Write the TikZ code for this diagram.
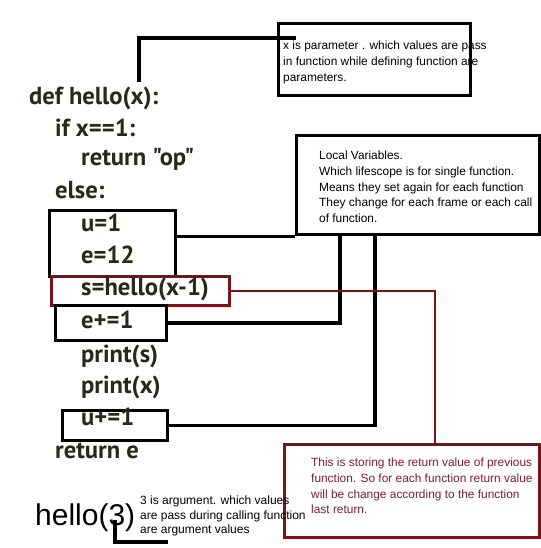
\documentclass[tikz,border=0pt]{standalone}
\usepackage{fontspec}
\setmainfont{Liberation Sans}
\newfontfamily\codefont{PT Sans}
\begin{document}
\begin{tikzpicture}[x=1pt,y=-1pt,
  code/.style={anchor=base west,inner sep=0pt,text=codecol,font=\codefont\bfseries\fontsize{24.6}{28}\selectfont},
  note/.style={anchor=north west,inner sep=0pt,align=left,font=\fontsize{11.9}{15.6}\selectfont},
  blkbox/.style={draw=black,line width=3.1pt,anchor=north west,inner sep=0pt},
  redbox/.style={draw=redcol,line width=2.8pt,anchor=north west,inner sep=0pt},
  conn/.style={draw=black,line width=3.2pt},
  redconn/.style={draw=redcol,line width=2.6pt}]
\definecolor{codecol}{RGB}{40,40,28}
\definecolor{redcol}{RGB}{123,18,22}
\definecolor{redtext}{RGB}{122,30,58}
\useasboundingbox[fill=white] (0,0) rectangle (540,548);
% boxes
\node[blkbox,minimum width=192pt,minimum height=72pt] (pbox) at (277,22) {};
\node[blkbox,minimum width=243pt,minimum height=99pt] (lv) at (295,134) {};
\node[blkbox,minimum width=126pt,minimum height=66pt] (bu) at (48,209) {};
\node[redbox,minimum width=178pt,minimum height=29pt] (bs) at (50,275) {};
\node[blkbox,minimum width=111pt,minimum height=35pt] (be) at (54,304) {};
\node[blkbox,minimum width=105pt,minimum height=30pt] (bu2) at (61,409) {};
\node[redbox,minimum width=255pt,minimum height=93pt] (rb) at (283,443) {};
% code
\node[code] (l1) at (29,105) {def hello(x):};
\node[code] (l2) at (55,137) {if x==1:};
\node[code] (l3) at (81,165) {return "op"};
\node[code] (l4) at (55,198) {else:};
\node[code] (l5) at (81,231) {u=1};
\node[code] (l6) at (81,263) {e=12};
\node[code] (l7) at (81,295) {s=hello(x-1)};
\node[code] (l8) at (81,328) {e+=1};
\node[code] (l9) at (81,362) {print(s)};
\node[code] (l10) at (81,393) {print(x)};
\node[code] (l11) at (81,425) {u+=1};
\node[code] (l12) at (55,458) {return e};
% notes
\node[note] (pt) at (283,41) {x is parameter . which values are pass\\in function while defining function are\\parameters.};
\node[note] (lt) at (319,151) {Local Variables.\\Which lifescope is for single function.\\Means they set again for each function\\They change for each frame or each call\\of function.};
\node[note,text=redtext] (rt) at (311,458) {This is storing the return value of previous\\function. So for each function return value\\will be change according to the function\\last return.};
\node[note,font=\fontsize{12}{14.5}\selectfont] (at) at (140,496) {3 is argument. which values\\are pass during calling function\\are argument values};
\node[anchor=base west,inner sep=0pt,font=\fontsize{30}{34}\selectfont] (h3) at (35,525) {hello(3)};
% connectors
\coordinate (px) at (139,82);
\coordinate (pend) at (296,38);
\draw[conn] (px) |- (pend);
\coordinate (a3) at (115,520);
\coordinate (aend) at (168,542);
\draw[conn] (a3) |- (aend);
\draw[conn] (bu.east |- lv.south west) -- (lv.south west);
\draw[conn] (be.east) -| ([xshift=45pt]lv.south west);
\draw[conn] (bu2.east) -| ([xshift=80pt]lv.south west);
\draw[redconn] (bs.east) -| ([xshift=152pt]rb.north west);
\end{tikzpicture}
\end{document}
